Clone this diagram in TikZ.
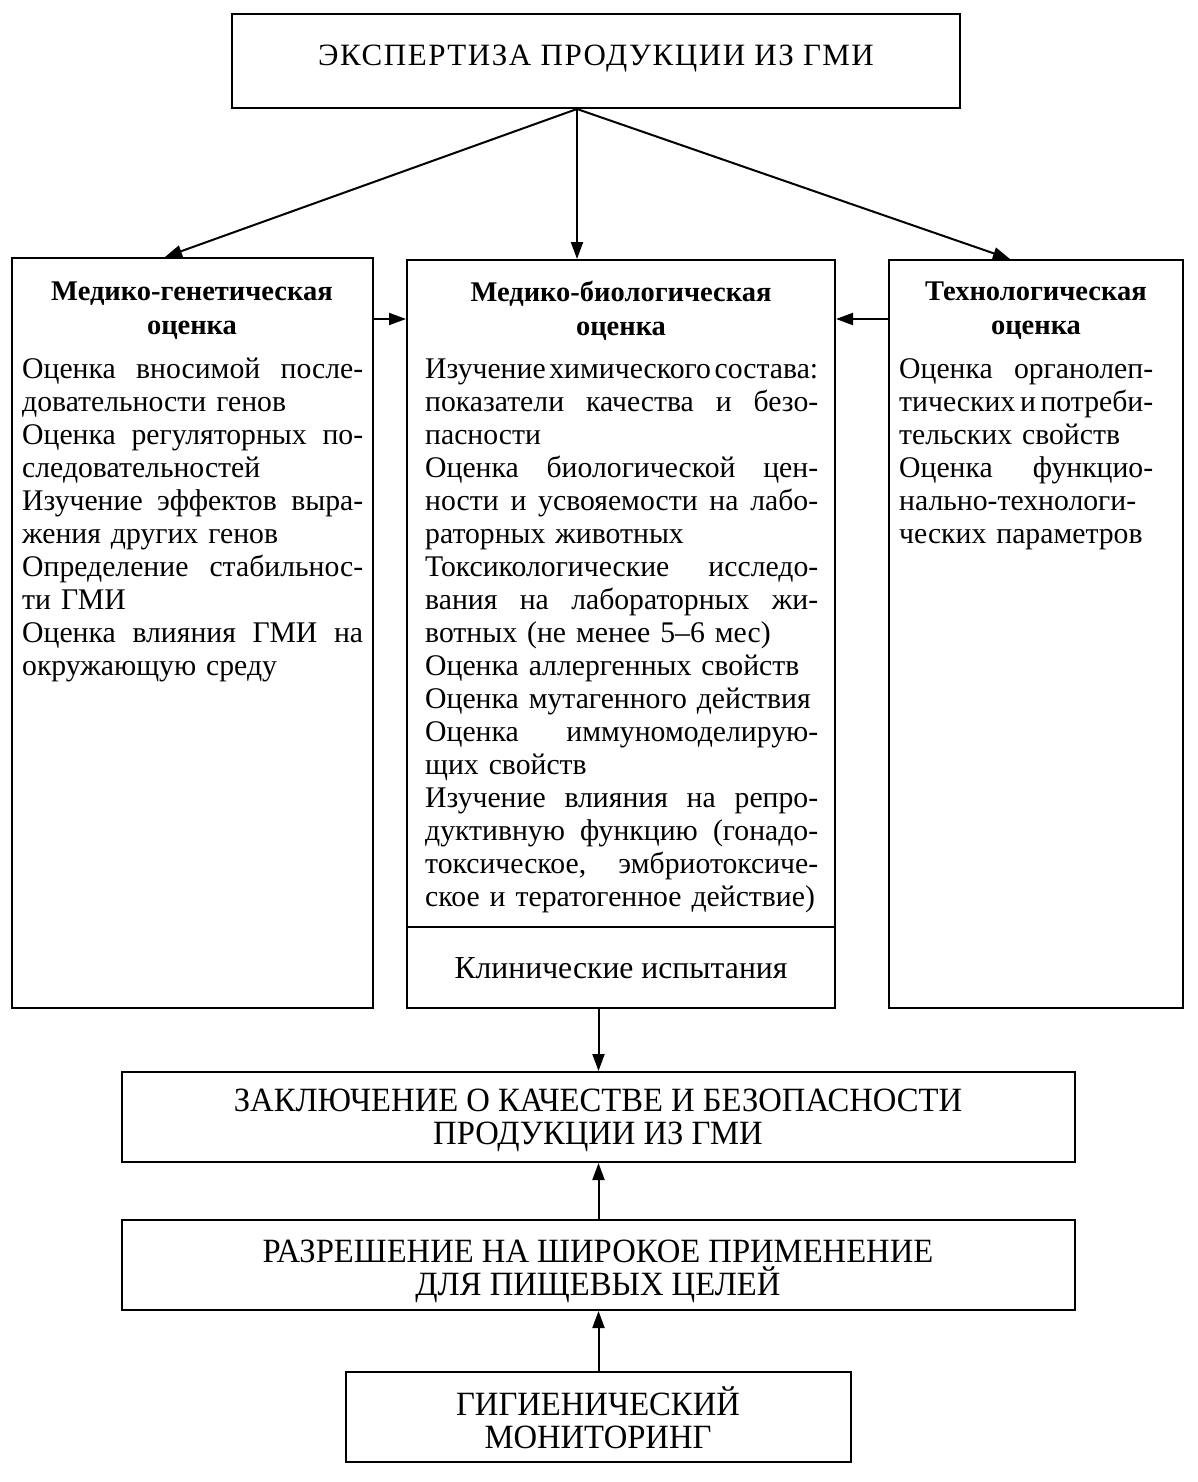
\documentclass[tikz,border=0pt]{standalone}
\usepackage{fontspec}
\setmainfont{Liberation Serif}
\newfontfamily\bodyfont[FakeStretch=0.99]{Liberation Serif}
\newfontfamily\titlefont[LetterSpace=5]{Liberation Serif}
\newfontfamily\capsfont[FakeStretch=0.96]{Liberation Serif}
\usetikzlibrary{arrows.meta}
\newlength{\jw}
\newcommand{\J}[1]{\leavevmode\hbox to \jw{#1}}
\newcommand{\wsp}{\hskip 3pt plus 1fill\relax}
\newcommand{\fl}{\rule{0pt}{24pt}}
\begin{document}
\begin{tikzpicture}[x=1pt,y=-1pt,
  box/.style={draw, line width=2pt, inner sep=0pt},
  arr/.style={line width=2pt, -{Triangle[length=17pt,width=12pt]}},
  bodytxt/.style={anchor=north west, inner sep=0pt, text width=#1, align=left,
    font=\bodyfont\fontsize{30}{33}\selectfont},
  headtxt/.style={inner sep=0pt, align=center, font=\fontsize{28.5}{34}\selectfont\bfseries},
  titletxt/.style={inner sep=0pt, align=center, font=\titlefont\fontsize{31}{33}\selectfont},
  capstxt/.style={inner sep=0pt, align=center, font=\capsfont\fontsize{34}{33}\selectfont}
]
\useasboundingbox (0,0) rectangle (1197,1482);
\fill[white] (0,0) rectangle (1197,1482);

% boxes
\node[box, minimum width=728pt, minimum height=94pt] (top) at (596,61) {};
\node[box, minimum width=361pt, minimum height=750pt] (lbox) at (192.5,633) {};
\node[box, minimum width=428pt, minimum height=748pt] (mbox) at (621,634) {};
\node[box, minimum width=294pt, minimum height=748pt] (rbox) at (1036,634) {};
\node[box, minimum width=953pt, minimum height=90pt] (concl) at (598.5,1117) {};
\node[box, minimum width=953pt, minimum height=90pt] (perm) at (598.5,1265) {};
\node[box, minimum width=505pt, minimum height=90pt] (mon) at (598.5,1417) {};

% caps texts
\node[titletxt] (toptxt) at (596,59) {ЭКСПЕРТИЗА ПРОДУКЦИИ ИЗ ГМИ};
\node[capstxt] (concltxt) at (598,1120) {ЗАКЛЮЧЕНИЕ О КАЧЕСТВЕ И БЕЗОПАСНОСТИ\\ПРОДУКЦИИ ИЗ ГМИ};
\node[capstxt] (permtxt) at (598,1271) {РАЗРЕШЕНИЕ НА ШИРОКОЕ ПРИМЕНЕНИЕ\\ДЛЯ ПИЩЕВЫХ ЦЕЛЕЙ};
\node[capstxt] (montxt) at (598,1418) {ГИГИЕНИЧЕСКИЙ\\МОНИТОРИНГ};

% headings
\node[headtxt] (lhead) at (192,311) {Медико-генетическая\\оценка};
\node[headtxt] (mhead) at (621,311) {Медико-биологическая\\оценка};
\node[headtxt] (rhead) at (1036,311) {Технологическая\\оценка};

% bodies
\node[bodytxt=341pt] (lbody) at (22,354) {\setlength{\jw}{341pt}\fl\J{Оценка\wsp вносимой\wsp после-}\\
довательности генов\\
\J{Оценка\wsp регуляторных\wsp по-}\\
следовательностей\\
\J{Изучение\wsp эффектов\wsp выра-}\\
жения других генов\\
\J{Определение\wsp стабильнос-}\\
ти ГМИ\\
\J{Оценка\wsp влияния\wsp ГМИ\wsp на}\\
окружающую среду};

\node[bodytxt=393pt] (mbody) at (425,354) {\setlength{\jw}{393pt}\fl\J{Изучение\wsp химического\wsp состава:}\\
\J{показатели\wsp качества\wsp и\wsp безо-}\\
пасности\\
\J{Оценка\wsp биологической\wsp цен-}\\
\J{ности\wsp и\wsp усвояемости\wsp на\wsp лабо-}\\
раторных животных\\
\J{Токсикологические\wsp исследо-}\\
\J{вания\wsp на\wsp лабораторных\wsp жи-}\\
вотных (не менее 5–6 мес)\\
Оценка аллергенных свойств\\
Оценка мутагенного действия\\
\J{Оценка\wsp иммуномоделирую-}\\
щих свойств\\
\J{Изучение\wsp влияния\wsp на\wsp репро-}\\
\J{дуктивную\wsp функцию\wsp (гонадо-}\\
\J{токсическое,\wsp эмбриотоксиче-}\\
ское и тератогенное действие)};

\node[bodytxt=254pt] (rbody) at (899,354) {\setlength{\jw}{254pt}\fl\J{Оценка\wsp органолеп-}\\
\J{тических\wsp и\wsp потреби-}\\
тельских свойств\\
\J{Оценка\wsp функцио-}\\
\J{нально-технологи-}\\
ческих параметров};

% divider and clinical trials
\draw[line width=2pt] ([yshift=-668pt]mbox.north west) -- ([yshift=-668pt]mbox.north east);
\node[inner sep=0pt, font=\bodyfont\fontsize{32}{33}\selectfont] (clin) at (621,968) {Клинические испытания};

% connectors
\draw[arr] ([xshift=-19pt]top.south) -- ([xshift=-27.5pt]lbox.north);
\draw[arr] ([xshift=-19pt]top.south) -- ([xshift=-44pt]mbox.north);
\draw[arr] ([xshift=-19pt]top.south) -- ([xshift=-26pt]rbox.north);
\draw[arr] ([yshift=-62pt]lbox.north east) -- ([yshift=-60pt]mbox.north west);
\draw[arr] ([yshift=-60pt]rbox.north west) -- ([yshift=-60pt]mbox.north east);
\draw[arr] (mbox.south -| concl.north) -- (concl.north);
\draw[arr] (perm.north) -- (concl.south);
\draw[arr] (mon.north) -- (perm.south);
\end{tikzpicture}
\end{document}
